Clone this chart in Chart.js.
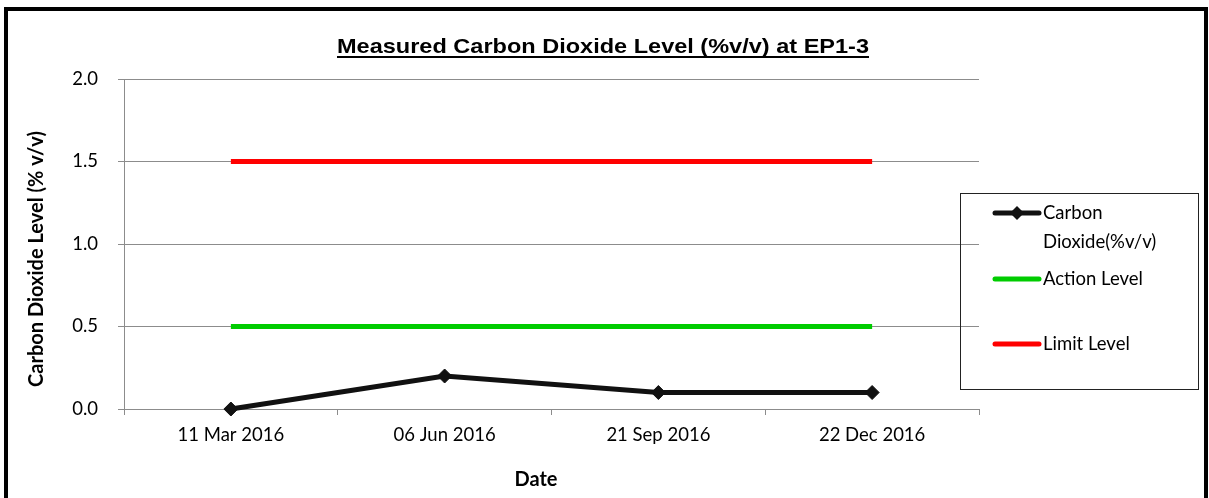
<!DOCTYPE html>
<html>
<head>
<meta charset="utf-8">
<script src="https://cdn.jsdelivr.net/npm/chart.js@4"></script>
<style>
  html, body { margin: 0; padding: 0; background: #fff; overflow: hidden; }
  #wrap { position: relative; width: 1209px; height: 498px; }
  #frame {
    position: absolute; left: 4px; top: 7px; width: 1196px; height: 520px;
    border: 4px solid #000; box-sizing: content-box; pointer-events: none;
  }
</style>
</head>
<body>
<div id="wrap">
  <canvas id="chart" width="1209" height="498"></canvas>
  <div id="frame"></div>
</div>
<script>
var dates = ['11 Mar 2016', '06 Jun 2016', '21 Sep 2016', '22 Dec 2016'];
var co2Level = [0, 0.2, 0.1, 0.1];
var actionLevel = [0.5, 0.5, 0.5, 0.5];
var limitLevel = [1.5, 1.5, 1.5, 1.5];
var yTicks = [0, 0.5, 1.0, 1.5, 2.0];

var chartTitle = 'Measured Carbon Dioxide Level (%v/v) at EP1-3';
var xTitle = 'Date';
var yTitle = 'Carbon Dioxide Level (% v/v)';
var bodyFont = 'Lato, Carlito, "Open Sans", sans-serif';
var gridColor = '#8c8c8c';

// chart title and axis titles, drawn by hand (underline + off-centre placement)
var titlePlugin = {
    id: 'titles',
    afterDraw: function(chart) {
        var ctx = chart.ctx;
        ctx.save();
        ctx.fillStyle = '#000';
        ctx.textAlign = 'center';
        ctx.textBaseline = 'alphabetic';

        // main title, stretched a little wider like the source picture
        ctx.font = 'bold 21px "Liberation Sans", Arial, sans-serif';
        var w = ctx.measureText(chartTitle).width;
        var sx = 532 / w;
        ctx.save();
        ctx.translate(603, 53);
        ctx.scale(sx, 1);
        ctx.fillText(chartTitle, 0, 0);
        ctx.fillRect(-w / 2, 3, w, 2);
        ctx.restore();

        ctx.font = 'bold 20px ' + bodyFont;
        ctx.textBaseline = 'middle';
        ctx.fillText(xTitle, 536, 480);

        ctx.translate(37, 259);
        ctx.rotate(-Math.PI / 2);
        ctx.fillText(yTitle, 0, 0);
        ctx.restore();
    }
};

// boxed legend on the right, entries taken from the datasets
var legendPlugin = {
    id: 'boxLegend',
    afterDraw: function(chart) {
        var ctx = chart.ctx;
        var box = { x: 960.5, y: 193.5, w: 238, h: 196 };
        ctx.save();
        ctx.strokeStyle = '#222';
        ctx.lineWidth = 1;
        ctx.strokeRect(box.x, box.y, box.w, box.h);

        var rows = [
            { y: 213, lines: ['Carbon', 'Dioxide(%v/v)'] },
            { y: 279, lines: ['Action Level'] },
            { y: 344, lines: ['Limit Level'] }
        ];
        ctx.font = '18.5px ' + bodyFont;
        ctx.textBaseline = 'middle';
        ctx.textAlign = 'left';
        chart.data.datasets.forEach(function(ds, i) {
            var r = rows[i];
            ctx.strokeStyle = ds.borderColor;
            ctx.lineWidth = ds.borderWidth;
            ctx.lineCap = 'round';
            ctx.beginPath();
            ctx.moveTo(995, r.y);
            ctx.lineTo(1039, r.y);
            ctx.stroke();
            if (ds.pointRadius > 0) {
                ctx.fillStyle = ds.pointBackgroundColor;
                ctx.beginPath();
                ctx.moveTo(1017, r.y - 7);
                ctx.lineTo(1024, r.y);
                ctx.lineTo(1017, r.y + 7);
                ctx.lineTo(1010, r.y);
                ctx.closePath();
                ctx.fill();
            }
            ctx.fillStyle = '#000';
            r.lines.forEach(function(t, k) {
                ctx.fillText(t, 1043, r.y + k * 29);
            });
        });
        ctx.restore();
    }
};

new Chart(document.getElementById('chart'), {
    type: 'line',
    data: {
        labels: dates,
        datasets: [
            {
                label: 'Carbon Dioxide(%v/v)',
                data: co2Level,
                borderColor: '#111',
                borderWidth: 5,
                pointStyle: 'rectRot',
                pointRadius: 7,
                pointBackgroundColor: '#111',
                pointBorderColor: '#111',
                pointBorderWidth: 1,
                tension: 0,
                clip: false
            },
            {
                label: 'Action Level',
                data: actionLevel,
                borderColor: '#00cc00',
                borderWidth: 5,
                pointRadius: 0,
                tension: 0
            },
            {
                label: 'Limit Level',
                data: limitLevel,
                borderColor: '#ff0000',
                borderWidth: 5,
                pointRadius: 0,
                tension: 0
            }
        ]
    },
    options: {
        responsive: false,
        animation: false,
        layout: { padding: { left: 0, right: 230, top: 79, bottom: 0 } },
        plugins: {
            legend: { display: false },
            title: { display: false },
            tooltip: { enabled: false }
        },
        scales: {
            x: {
                offset: true,
                grid: {
                    offset: true,
                    drawOnChartArea: false,
                    drawTicks: true,
                    tickLength: 6,
                    color: gridColor
                },
                border: { color: gridColor, width: 1 },
                ticks: {
                    color: '#000',
                    font: { family: bodyFont, size: 18.5 },
                    padding: 9,
                    maxRotation: 0
                },
                afterFit: function(scale) { scale.height = 89; }
            },
            y: {
                min: 0,
                max: 2,
                afterBuildTicks: function(scale) {
                    scale.ticks = yTicks.map(function(v) { return { value: v }; });
                },
                grid: {
                    color: gridColor,
                    tickLength: 6
                },
                border: { color: gridColor, width: 1 },
                ticks: {
                    color: '#000',
                    font: { family: bodyFont, size: 18.5 },
                    padding: 20,
                    callback: function(v) { return Number(v).toFixed(1); }
                },
                afterFit: function(scale) { scale.width = 124; }
            }
        }
    },
    plugins: [titlePlugin, legendPlugin]
});
</script>
</body>
</html>
